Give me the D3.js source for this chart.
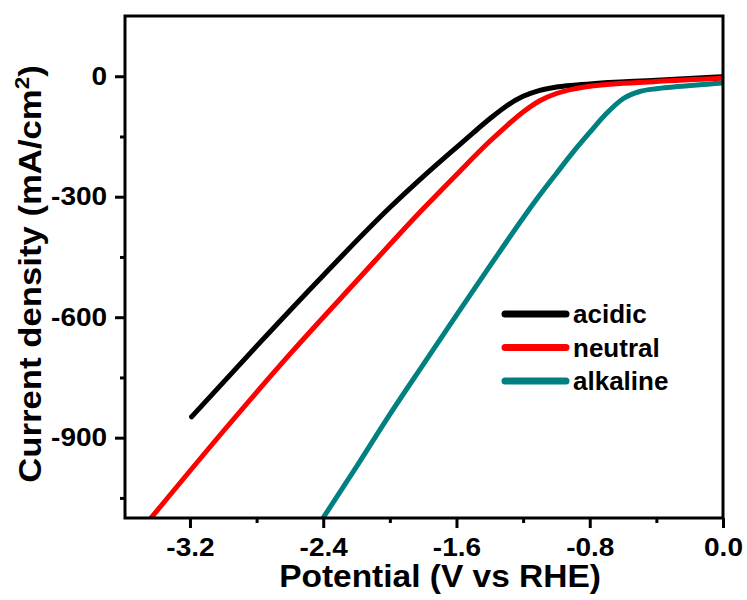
<!DOCTYPE html>
<html>
<head>
<meta charset="utf-8">
<script src="https://cdn.jsdelivr.net/npm/d3@7"></script>
<style>
  body { margin: 0; background: #fff; }
  text { font-family: Arial, "Liberation Sans", sans-serif; font-weight: bold; }
</style>
</head>
<body>
<script>
// polarization curves
var acidicV  = [-3.19, -2.8, -2.4, -2.0, -1.8, -1.6, -1.5, -1.4, -1.3, -1.2, -1.1, -1.0, -0.8, -0.4, 0.0];
var acidicJ  = [-848, -672, -496, -327, -250, -177, -141, -106, -74, -50, -35, -27, -19, -10, -1];

var neutralV = [-3.45, -3.0, -2.6, -2.2, -1.8, -1.6, -1.4, -1.3, -1.2, -1.1, -1.0, -0.9, -0.8, -0.4, 0.0];
var neutralJ = [-1108, -884, -692, -510, -330, -245, -162, -124, -89, -61, -43, -32, -25, -13, -5];

var alkalineV = [-2.42, -2.2, -2.0, -1.8, -1.6, -1.4, -1.2, -1.1, -1.0, -0.9, -0.8, -0.7, -0.6, -0.5, -0.4, -0.3, 0.0];
var alkalineJ = [-1112, -972, -842, -718, -595, -473, -353, -296, -242, -189, -140, -93, -56, -38, -31, -27, -17];

var seriesNames  = ["acidic", "neutral", "alkaline"];
var seriesColors = ["#000000", "#ff0000", "#008080"];

var xTicks = [-3.2, -2.4, -1.6, -0.8, 0.0];
var xTickLabels = ["-3.2", "-2.4", "-1.6", "-0.8", "0.0"];
var xMinor = [-2.8, -2.0, -1.2, -0.4];
var yTicks = [0, -300, -600, -900];
var yTickLabels = ["0", "-300", "-600", "-900"];
var yMinor = [-150, -450, -750, -1050];

var width = 747, height = 600;
// plot box edges (note: "top" is taken by window.top)
var plotLeft = 125, plotRight = 723, plotTop = 16, plotBottom = 518;
// the source picture is a little wider than tall, text comes out stretched
var textStretch = 1.12;

var x = d3.scaleLinear().domain([-3.59, 0]).range([plotLeft, plotRight]);
var y = d3.scaleLinear().domain([-1100, 150]).range([plotBottom, plotTop]);

var svg = d3.select("body").append("svg")
    .attr("width", width)
    .attr("height", height);

svg.append("clipPath").attr("id", "plotclip")
  .append("rect")
    .attr("x", plotLeft).attr("y", plotTop)
    .attr("width", plotRight - plotLeft).attr("height", plotBottom - plotTop);

// curves
var series = [
    {name: "acidic",   v: acidicV,   j: acidicJ},
    {name: "neutral",  v: neutralV,  j: neutralJ},
    {name: "alkaline", v: alkalineV, j: alkalineJ}
];

var line = d3.line()
    .x(function(d) { return x(d[0]); })
    .y(function(d) { return y(d[1]); })
    .curve(d3.curveMonotoneX);

svg.append("g").attr("clip-path", "url(#plotclip)")
  .selectAll("path")
  .data(series)
  .enter()
  .append("path")
    .attr("d", function(s) { return line(d3.zip(s.v, s.j)); })
    .attr("fill", "none")
    .attr("stroke", function(s, i) { return seriesColors[i]; })
    .attr("stroke-width", 5)
    .attr("stroke-linejoin", "round")
    .attr("stroke-linecap", "round");

// axes
var xAxis = d3.axisBottom(x)
    .tickValues(xTicks)
    .tickFormat(function(d, i) { return xTickLabels[i]; })
    .tickSize(10).tickSizeOuter(0).tickPadding(10);

var yAxis = d3.axisLeft(y)
    .tickValues(yTicks)
    .tickFormat(function(d, i) { return yTickLabels[i]; })
    .tickSize(10).tickSizeOuter(0).tickPadding(6);

svg.append("g").attr("transform", "translate(0," + plotBottom + ")").call(xAxis);
svg.append("g").attr("transform", "translate(" + plotLeft + ",0)").call(yAxis);

svg.append("g").attr("transform", "translate(0," + plotBottom + ")")
    .call(d3.axisBottom(x).tickValues(xMinor).tickFormat("").tickSize(5).tickSizeOuter(0));
svg.append("g").attr("transform", "translate(" + plotLeft + ",0)")
    .call(d3.axisLeft(y).tickValues(yMinor).tickFormat("").tickSize(5).tickSizeOuter(0));

svg.selectAll(".domain").remove();
svg.selectAll(".tick line").attr("stroke", "#000").attr("stroke-width", 3);
svg.selectAll(".tick text")
    .attr("font-size", "25px")
    .attr("font-family", "Arial, 'Liberation Sans', sans-serif")
    .attr("font-weight", "bold")
    .attr("fill", "#000")
    .attr("transform", "scale(" + textStretch + ",1)");

// frame
svg.append("rect")
    .attr("x", plotLeft).attr("y", plotTop)
    .attr("width", plotRight - plotLeft).attr("height", plotBottom - plotTop)
    .attr("fill", "none")
    .attr("stroke", "#000")
    .attr("stroke-width", 3);

// axis titles
svg.append("text")
    .attr("transform", "translate(440,587) scale(1.08,1)")
    .attr("text-anchor", "middle")
    .attr("font-size", "31px")
    .text("Potential (V vs RHE)");

var yt = svg.append("text")
    .attr("transform", "translate(41,274) rotate(-90) scale(" + textStretch + ",1)")
    .attr("text-anchor", "middle")
    .attr("font-size", "31px");
yt.append("tspan").text("Current density (mA/cm");
yt.append("tspan").attr("font-size", "20px").attr("dy", "-12").text("2");
yt.append("tspan").attr("dy", "12").text(")");

// legend
var legend = svg.append("g").selectAll("g")
    .data(seriesNames)
    .enter()
    .append("g")
    .attr("transform", function(d, i) { return "translate(505," + (314 + i * 33.5) + ")"; });

legend.append("line")
    .attr("x1", 0).attr("x2", 61)
    .attr("stroke", function(d, i) { return seriesColors[i]; })
    .attr("stroke-width", 7)
    .attr("stroke-linecap", "round");

legend.append("text")
    .attr("x", 68).attr("y", 9)
    .attr("font-size", "26px")
    .text(function(d) { return d; });
</script>
</body>
</html>
